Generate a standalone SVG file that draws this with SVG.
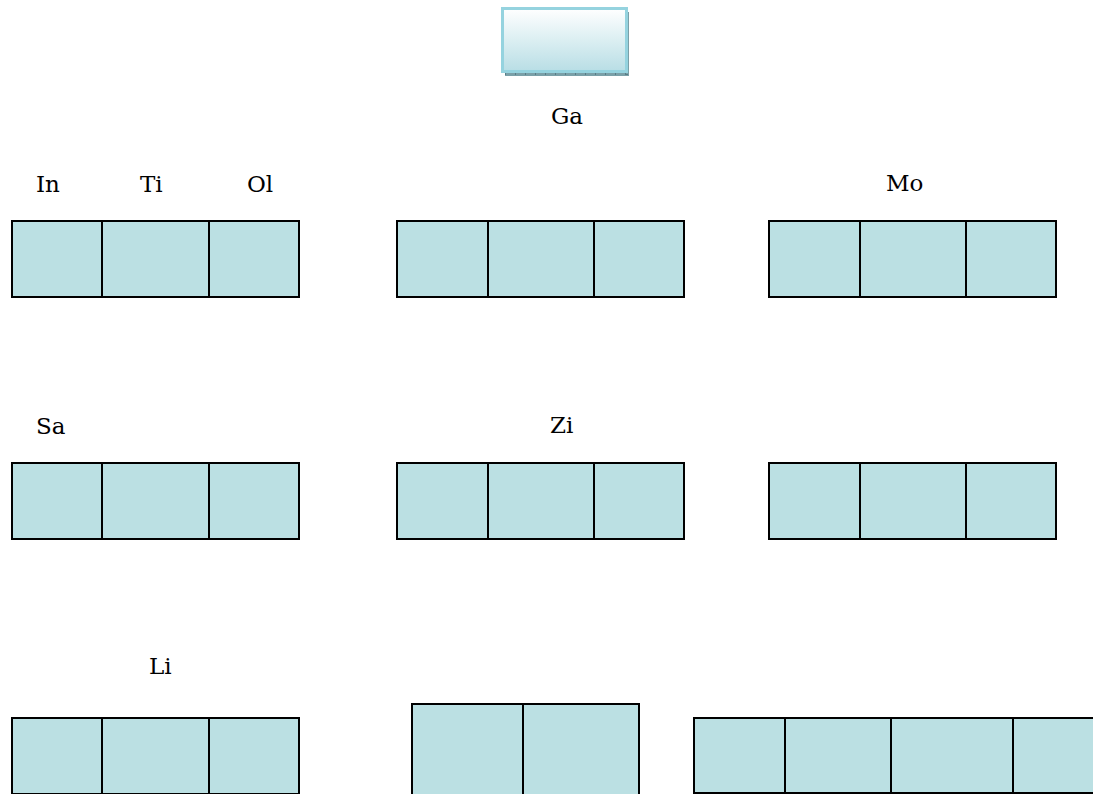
<svg xmlns="http://www.w3.org/2000/svg" width="1093" height="794" viewBox="0 0 1093 794">
<style>
.cell{fill:#bbe0e3;stroke:#000;stroke-width:2}
.lbl{font-family:"DejaVu Serif","Liberation Serif",serif;font-size:23px;fill:#000}
</style>
<defs>
<linearGradient id="g" x1="0" y1="0" x2="0" y2="1">
<stop offset="0" stop-color="#ffffff"/>
<stop offset="1" stop-color="#b8dee5"/>
</linearGradient>
</defs>
<rect width="1093" height="794" fill="#fff"/>
<g id="top">
<rect x="505" y="12" width="124" height="64" fill="#7aa0a8"/>
<path d="M505 74H629M627 14V76" stroke="#4d7079" stroke-width="1.5" stroke-dasharray="1 9" fill="none"/>
<rect x="502.5" y="8.5" width="124" height="63" fill="url(#g)" stroke="#95d3df" stroke-width="3"/>
</g>
<g id="labels">
<text class="lbl" x="551" y="124">Ga</text>
<text class="lbl" x="36" y="192">In</text>
<text class="lbl" x="140" y="192">Ti</text>
<text class="lbl" x="247" y="192">Ol</text>
<text class="lbl" x="886" y="191">Mo</text>
<text class="lbl" x="36" y="434">Sa</text>
<text class="lbl" x="550" y="433">Zi</text>
<text class="lbl" x="149" y="674">Li</text>
</g>
<g id="r1a"><rect class="cell" x="12" y="221" width="90" height="76"/><rect class="cell" x="102" y="221" width="107" height="76"/><rect class="cell" x="209" y="221" width="90" height="76"/></g>
<g id="r1b"><rect class="cell" x="397" y="221" width="91" height="76"/><rect class="cell" x="488" y="221" width="106" height="76"/><rect class="cell" x="594" y="221" width="90" height="76"/></g>
<g id="r1c"><rect class="cell" x="769" y="221" width="91" height="76"/><rect class="cell" x="860" y="221" width="106" height="76"/><rect class="cell" x="966" y="221" width="90" height="76"/></g>
<g id="r2a"><rect class="cell" x="12" y="463" width="90" height="76"/><rect class="cell" x="102" y="463" width="107" height="76"/><rect class="cell" x="209" y="463" width="90" height="76"/></g>
<g id="r2b"><rect class="cell" x="397" y="463" width="91" height="76"/><rect class="cell" x="488" y="463" width="106" height="76"/><rect class="cell" x="594" y="463" width="90" height="76"/></g>
<g id="r2c"><rect class="cell" x="769" y="463" width="91" height="76"/><rect class="cell" x="860" y="463" width="106" height="76"/><rect class="cell" x="966" y="463" width="90" height="76"/></g>
<g id="r3a"><rect class="cell" x="12" y="718" width="90" height="76"/><rect class="cell" x="102" y="718" width="107" height="76"/><rect class="cell" x="209" y="718" width="90" height="76"/></g>
<g id="r3b"><rect class="cell" x="412" y="704" width="111" height="100"/><rect class="cell" x="523" y="704" width="116" height="100"/></g>
<g id="r3c"><rect class="cell" x="694" y="718" width="91" height="75"/><rect class="cell" x="785" y="718" width="106" height="75"/><rect class="cell" x="891" y="718" width="122" height="75"/><rect class="cell" x="1013" y="718" width="100" height="75"/></g>
<g id="connectors"/>
</svg>
